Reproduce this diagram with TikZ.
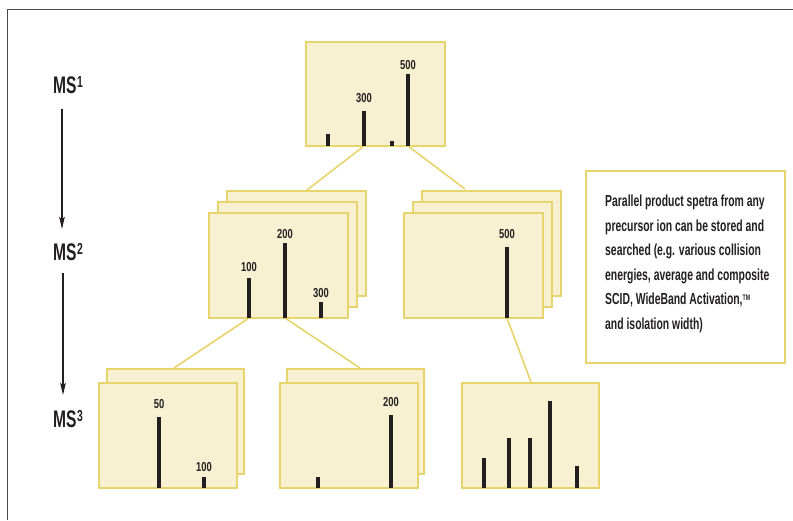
\documentclass[tikz,border=0pt]{standalone}
\usepackage{fontspec}
\usetikzlibrary{arrows.meta}
\newfontfamily\condfont{Liberation Sans}[FakeStretch=0.65]
\newfontfamily\numfont{Liberation Sans}[FakeStretch=0.72]
\definecolor{boxfill}{HTML}{F7F1D1}
\definecolor{boxline}{HTML}{E8D46C}
\definecolor{ink}{HTML}{231F20}
\definecolor{frameline}{HTML}{4A4A4A}
\tikzset{
  specbox/.style={draw=boxline, fill=boxfill, line width=2pt, inner sep=0pt,
    anchor=north west, minimum width=139pt, minimum height=105pt},
  peakbar/.style={draw=ink, line width=4pt},
  link/.style={draw=boxline, line width=1.6pt},
  peaklabel/.style={font=\numfont\bfseries\fontsize{13}{13}\selectfont, text=ink,
    inner sep=0pt, anchor=south},
  stagelabel/.style={font=\condfont\bfseries\fontsize{24}{24}\selectfont, text=ink,
    inner sep=0pt, anchor=base west},
  flow/.style={draw=ink, line width=1.4pt, -{Stealth[length=12pt,width=5.5pt,inset=2pt]}},
}
\newcommand{\stagesup}[1]{\kern0.5pt\raisebox{5.5pt}{\fontsize{16}{16}\selectfont #1}}
\begin{document}
\begin{tikzpicture}[x=1pt,y=-1pt]
\useasboundingbox (0,0) rectangle (793,520);

% frame
\draw[frameline, line width=1.6pt] (793,9.5) -- (7.5,9.5) -- (7.5,520);

% stage labels and arrows
\node[stagelabel] (ms1) at (53,93)  {MS\stagesup{1}};
\node[stagelabel] (ms2) at (53,260) {MS\stagesup{2}};
\node[stagelabel] (ms3) at (53,427) {MS\stagesup{3}};
\draw[flow, shorten <=16pt, shorten >=14pt] ([xshift=9pt]ms1.south west) -- ([xshift=9pt]ms2.north west);
\draw[flow, shorten <=13pt, shorten >=15pt] ([xshift=10pt]ms2.south west) -- ([xshift=10pt]ms3.north west);

% precursor positions (peak bases) and fragment-stack entry points
\coordinate (p300) at (364,146);
\coordinate (p500) at (408,146);
\coordinate (q100) at (249,318);
\coordinate (q200) at (285,318);
\coordinate (r500) at (507,318);
\coordinate (in2a) at (307,190);
\coordinate (in2b) at (465,189);
\coordinate (in3a) at (174,368);
\coordinate (in3b) at (360,368);
\coordinate (in3c) at (531,382);

% connectors
\draw[link] (p300) -- (in2a);
\draw[link] (p500) -- (in2b);
\draw[link] (q100) -- (in3a);
\draw[link] (q200) -- (in3b);
\draw[link] (r500) -- (in3c);

% MS1 spectrum
\node[specbox, minimum height=104pt] (s1) at (305,41) {};
\draw[peakbar] (328,146) -- (328,134);
\draw[peakbar] (364,146) -- (364,111);
\draw[peakbar] (392,146) -- (392,141);
\draw[peakbar] (408,146) -- (408,74);
\node[peaklabel] (l1a) at (364,103) {300};
\node[peaklabel] (l1b) at (408,70) {500};

% MS2 stack from precursor 300
\node[specbox] (s2a3) at (226,190) {};
\node[specbox] (s2a2) at (217,201) {};
\node[specbox] (s2a1) at (208,212) {};
\draw[peakbar] (249,318) -- (249,278);
\draw[peakbar] (285,318) -- (285,243);
\draw[peakbar] (321,318) -- (321,302);
\node[peaklabel] (l2a) at (249,272) {100};
\node[peaklabel] (l2b) at (285,239) {200};
\node[peaklabel] (l2c) at (321,298) {300};

% MS2 stack from precursor 500
\node[specbox] (s2b3) at (421,190) {};
\node[specbox] (s2b2) at (412,201) {};
\node[specbox] (s2b1) at (403,212) {};
\draw[peakbar] (507,318) -- (507,247);
\node[peaklabel] (l2d) at (507,239) {500};

% MS3 stack from fragment 100
\node[specbox, minimum width=137pt] (s3a2) at (106,368) {};
\node[specbox, minimum width=138pt] (s3a1) at (98,382) {};
\draw[peakbar] (159,488) -- (159,417);
\draw[peakbar] (204,488) -- (204,477);
\node[peaklabel] (l3a) at (159,409) {50};
\node[peaklabel] (l3b) at (204,472) {100};

% MS3 stack from fragment 200
\node[specbox, minimum width=137pt] (s3b2) at (286,368) {};
\node[specbox, minimum width=138pt] (s3b1) at (279,382) {};
\draw[peakbar] (318,488) -- (318,477);
\draw[peakbar] (391,488) -- (391,415);
\node[peaklabel] (l3c) at (391,407) {200};

% MS3 spectrum from fragment 500
\node[specbox, minimum width=137pt] (s3c) at (461,382) {};
\draw[peakbar] (484,488) -- (484,458);
\draw[peakbar] (509,488) -- (509,438);
\draw[peakbar] (530,488) -- (530,438);
\draw[peakbar] (550,488) -- (550,401);
\draw[peakbar] (577,488) -- (577,466);

% note box
\node[draw=boxline, line width=2pt, fill=white, inner sep=0pt, anchor=north west,
  minimum width=199pt, minimum height=192pt] (note) at (585,170) {};
\node[anchor=north west, inner sep=0pt, align=left, text=ink,
  font=\condfont\bfseries\fontsize{16}{24.5}\selectfont] (notetext) at (605,195)
  {Parallel product spetra from any\\
   precursor ion can be stored and\\
   searched (e.g. various collision\\
   energies, average and composite\\
   SCID, WideBand Activation,{\fontsize{8}{8}\selectfont\raisebox{4pt}{TM}}\\
   and isolation width)};
\end{tikzpicture}
\end{document}
